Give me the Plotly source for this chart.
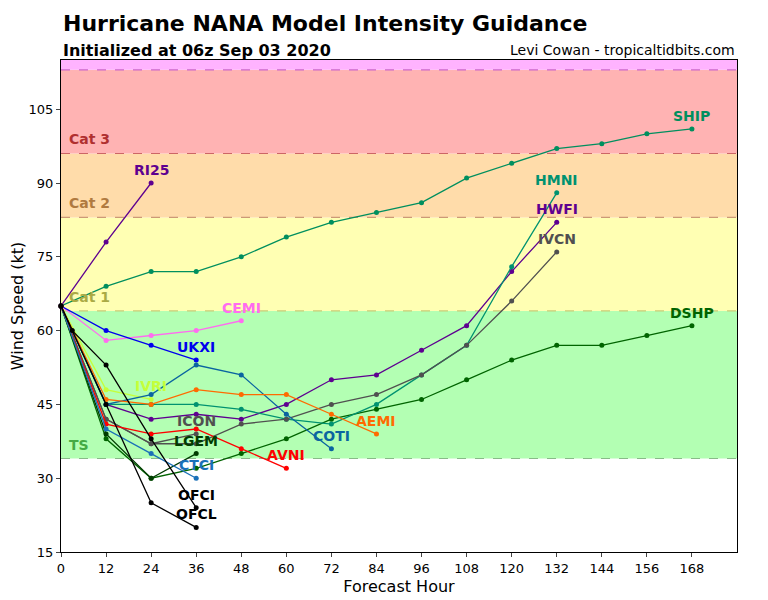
import plotly.graph_objects as go

# ---- data ----
models = ["SHIP", "DSHP", "LGEM", "HWFI", "HMNI", "IVCN", "ICON", "RI25", "CEMI",
          "UKXI", "IVRI", "COTI", "AEMI", "AVNI", "CTCI", "OFCI", "OFCL"]

ship_h = [0, 12, 24, 36, 48, 60, 72, 84, 96, 108, 120, 132, 144, 156, 168]
ship_v = [65, 69, 72, 72, 75, 79, 82, 84, 86, 91, 94, 97, 98, 100, 101]
dshp_h = [0, 12, 24, 36, 48, 60, 72, 84, 96, 108, 120, 132, 144, 156, 168]
dshp_v = [65, 38, 30, 32, 35, 38, 42, 44, 46, 50, 54, 57, 57, 59, 61]
lgem_h = [0, 12, 24, 36]
lgem_v = [65, 39, 30, 35]
hwfi_h = [0, 12, 24, 36, 48, 60, 72, 84, 96, 108, 120, 132]
hwfi_v = [65, 45, 42, 43, 42, 45, 50, 51, 56, 61, 72, 82]
hmni_h = [0, 12, 24, 36, 48, 60, 72, 84, 96, 108, 120, 132]
hmni_v = [65, 45, 45, 45, 44, 42, 41, 45, 51, 57, 73, 88]
ivcn_h = [0, 12, 24, 36, 48, 60, 72, 84, 96, 108, 120, 132]
ivcn_v = [65, 42, 37, 37, 41, 42, 45, 47, 51, 57, 66, 76]
icon_h = [0, 12, 24, 36]
icon_v = [65, 42, 37, 39]
ri25_h = [0, 12, 24]
ri25_v = [65, 78, 90]
cemi_h = [0, 12, 24, 36, 48]
cemi_v = [65, 58, 59, 60, 62]
ukxi_h = [0, 12, 24, 36]
ukxi_v = [65, 60, 57, 54]
ivri_h = [0, 12, 24]
ivri_v = [65, 48, 46]
coti_h = [0, 12, 24, 36, 48, 60, 72]
coti_v = [65, 45, 47, 53, 51, 43, 36]
aemi_h = [0, 12, 24, 36, 48, 60, 72, 84]
aemi_v = [65, 46, 45, 48, 47, 47, 43, 39]
avni_h = [0, 12, 24, 36, 48, 60]
avni_v = [65, 41, 39, 40, 36, 32]
ctci_h = [0, 12, 24, 36]
ctci_v = [65, 40, 35, 30]
ofci_h = [0, 3, 12, 24, 36]
ofci_v = [65, 60, 53, 38, 24]
ofcl_h = [0, 12, 24, 36]
ofcl_v = [65, 45, 25, 20]

hours = [ship_h, dshp_h, lgem_h, hwfi_h, hmni_h, ivcn_h, icon_h, ri25_h, cemi_h,
         ukxi_h, ivri_h, coti_h, aemi_h, avni_h, ctci_h, ofci_h, ofcl_h]
values = [ship_v, dshp_v, lgem_v, hwfi_v, hmni_v, ivcn_v, icon_v, ri25_v, cemi_v,
          ukxi_v, ivri_v, coti_v, aemi_v, avni_v, ctci_v, ofci_v, ofcl_v]

x_ticks = [0, 12, 24, 36, 48, 60, 72, 84, 96, 108, 120, 132, 144, 156, 168]
y_ticks = [15, 30, 45, 60, 75, 90, 105]

band_names = ["TS", "Cat 1", "Cat 2", "Cat 3", ""]
band_low = [34, 64, 83, 96, 113]
band_high = [64, 83, 96, 113, 137]

# ---- styles ----
colors = {
    "SHIP": "#008f5e", "DSHP": "#006400", "LGEM": "#003c00", "HWFI": "#5e0090",
    "HMNI": "#009270", "IVCN": "#505050", "ICON": "#505050", "RI25": "#5e0090",
    "CEMI": "#ff6cf0", "UKXI": "#0000ee", "IVRI": "#c4ff3a", "COTI": "#0a64a0",
    "AEMI": "#ff6a00", "AVNI": "#ff0000", "CTCI": "#1a70b8", "OFCI": "#000000",
    "OFCL": "#000000",
}
band_fill = ["#b3ffb3", "#ffffb3", "#ffdcaa", "#ffb3b3", "#ffb3ff"]
band_line = ["#88bb88", "#cccc77", "#cc9977", "#cc6666", "#cc66cc"]
band_text = ["#44aa44", "#aaaa44", "#b07a40", "#b03030", "#b040b0"]

fig = go.Figure()

shapes = []
annotations = []
for i in range(len(band_low)):
    shapes.append(dict(type="rect", xref="paper", yref="y", x0=0, x1=1,
                       y0=band_low[i], y1=band_high[i], fillcolor=band_fill[i],
                       line=dict(width=0), layer="below"))
    shapes.append(dict(type="line", xref="paper", yref="y", x0=0, x1=1,
                       y0=band_low[i], y1=band_low[i],
                       line=dict(color=band_line[i], width=1.2, dash="dash"),
                       layer="below"))
    if band_names[i]:
        annotations.append(dict(x=1.6, y=band_low[i], xref="x", yref="y",
                                text="<b>" + band_names[i] + "</b>", showarrow=False,
                                xanchor="left", yanchor="bottom", yshift=4,
                                font=dict(size=14, color=band_text[i],
                                          family="DejaVu Sans")))

for name, h, v in zip(models, hours, values):
    c = colors[name]
    fig.add_trace(go.Scatter(x=h, y=v, mode="lines+markers", name=name,
                             line=dict(color=c, width=1.3),
                             marker=dict(color=c, size=5), showlegend=False,
                             cliponaxis=False))
    annotations.append(dict(x=h[-1], y=v[-1], xref="x", yref="y",
                            text="<b>" + name + "</b>", showarrow=False,
                            xanchor="center", yanchor="middle", yshift=13,
                            font=dict(size=14, color=c, family="DejaVu Sans")))

annotations.append(dict(x=0, y=1.0, xref="paper", yref="paper", yshift=37,
                        text="<b>Hurricane NANA Model Intensity Guidance</b>",
                        showarrow=False, xanchor="left", yanchor="middle",
                        font=dict(size=22, color="black", family="DejaVu Sans")))
annotations.append(dict(x=0, y=1.0, xref="paper", yref="paper", yshift=10,
                        text="<b>Initialized at 06z Sep 03 2020</b>",
                        showarrow=False, xanchor="left", yanchor="middle",
                        font=dict(size=16, color="black", family="DejaVu Sans")))
annotations.append(dict(x=1, y=1.0, xref="paper", yref="paper", yshift=10,
                        text="Levi Cowan - tropicaltidbits.com",
                        showarrow=False, xanchor="right", yanchor="middle",
                        font=dict(size=14, color="black", family="DejaVu Sans")))

fig.update_layout(
    width=760, height=592,
    margin=dict(l=53, r=31, t=52, b=48),
    paper_bgcolor="white", plot_bgcolor="white",
    shapes=shapes, annotations=annotations,
    font=dict(family="DejaVu Sans", color="black", size=13),
    xaxis=dict(range=[0, 180], tickvals=x_ticks, ticks="outside", ticklen=4,
               showgrid=False, zeroline=False, showline=True, linecolor="black",
               linewidth=1, mirror=True, tickfont=dict(size=13), automargin=False,
               title=dict(text="Forecast Hour", font=dict(size=16), standoff=6)),
    yaxis=dict(range=[15, 115], tickvals=y_ticks, ticks="outside", ticklen=4,
               showgrid=False, zeroline=False, showline=True, linecolor="black",
               linewidth=1, mirror=True, tickfont=dict(size=13), automargin=False,
               title=dict(text="Wind Speed (kt)", font=dict(size=16), standoff=15)),
)

fig.write_html("out.html")
